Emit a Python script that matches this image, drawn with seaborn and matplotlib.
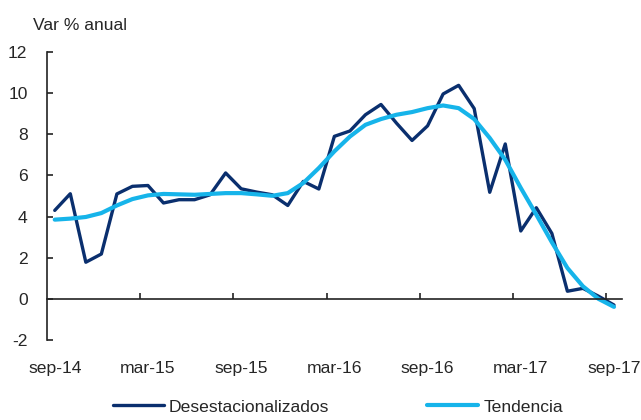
import pandas as pd
import matplotlib
matplotlib.use("Agg")
import matplotlib.pyplot as plt
import seaborn as sns

# monthly series, sep-14 .. sep-17
months = pd.date_range("2014-09-01", "2017-09-01", freq="MS")
desestacionalizados = [4.30, 5.11, 1.78, 2.18, 5.10, 5.47, 5.51, 4.66, 4.82, 4.82,
                       5.06, 6.12, 5.35, 5.19, 5.06, 4.54, 5.71, 5.34, 7.90, 8.16,
                       8.95, 9.45, 8.54, 7.70, 8.41, 9.96, 10.38, 9.25, 5.18, 7.53,
                       3.30, 4.43, 3.18, 0.37, 0.51, 0.13, -0.30]
tendencia = [3.85, 3.90, 3.98, 4.17, 4.54, 4.85, 5.03, 5.10, 5.08, 5.06,
             5.10, 5.14, 5.14, 5.08, 5.01, 5.14, 5.63, 6.36, 7.17, 7.89,
             8.46, 8.74, 8.95, 9.08, 9.27, 9.40, 9.27, 8.74, 7.82, 6.76,
             5.39, 4.09, 2.75, 1.50, 0.61, 0.00, -0.39]
mes_es = ["ene", "feb", "mar", "abr", "may", "jun", "jul", "ago", "sep", "oct", "nov", "dic"]
tick_labels = [f"{mes_es[d.month - 1]}-{d.strftime('%y')}" for d in months[::6]]

df = pd.DataFrame({
    "idx": list(range(len(months))) * 2,
    "valor": desestacionalizados + tendencia,
    "serie": ["Desestacionalizados"] * len(months) + ["Tendencia"] * len(months),
})

sns.set_style("white")
plt.rcParams["font.family"] = ["Liberation Sans", "DejaVu Sans"]
plt.rcParams["font.size"] = 12.6
plt.rcParams["axes.unicode_minus"] = False

fig = plt.figure(figsize=(6.41, 4.20), dpi=100)
ax = fig.add_axes([0.0733, 0.1905, 0.8967, 0.6857])

palette = {"Desestacionalizados": "#0a2f6e", "Tendencia": "#16b4ea"}
sns.lineplot(data=df[df.serie == "Desestacionalizados"], x="idx", y="valor",
             color=palette["Desestacionalizados"], lw=2.4, ax=ax,
             label="Desestacionalizados", legend=False)
sns.lineplot(data=df[df.serie == "Tendencia"], x="idx", y="valor",
             color=palette["Tendencia"], lw=3.0, ax=ax,
             label="Tendencia", legend=False)

ax.set_xlim(-0.5, len(months) - 0.5)
ax.set_ylim(-2, 12)
ax.set_yticks(range(-2, 13, 2))
ax.set_xlabel("")
ax.set_ylabel("")

for s in ["top", "right"]:
    ax.spines[s].set_visible(False)
ax.spines["bottom"].set_position(("data", 0))
for s in ["left", "bottom"]:
    ax.spines[s].set_color("#222222")
    ax.spines[s].set_linewidth(1.2)

# category boundary ticks on the zero line
ax.set_xticks([i + 5.5 for i in range(0, len(months) - 1, 6)])
ax.set_xticklabels([])
ax.tick_params(axis="x", bottom=True, direction="in", length=4, width=1.2, color="#222222")
ax.tick_params(axis="y", left=True, direction="in", length=4, width=1.2, color="#222222",
               pad=14, labelsize=12.6)

# month labels below the plot area
sec = ax.secondary_xaxis("bottom")
sec.set_xticks(range(0, len(months), 6))
sec.set_xticklabels(tick_labels)
sec.tick_params(length=0, pad=15, labelsize=12.6)
sec.spines["bottom"].set_visible(False)

fig.text(33 / 641, 1 - 25 / 420, "Var % anual", ha="left", va="center", fontsize=12.6)

handles, labels = ax.get_legend_handles_labels()
fig.legend(handles, labels, loc="center", bbox_to_anchor=(0.527, 0.031), ncol=2,
           frameon=False, handlelength=2.9, handletextpad=0.3, columnspacing=5.6,
           fontsize=12.6)

fig.savefig("out.png", dpi=100)
